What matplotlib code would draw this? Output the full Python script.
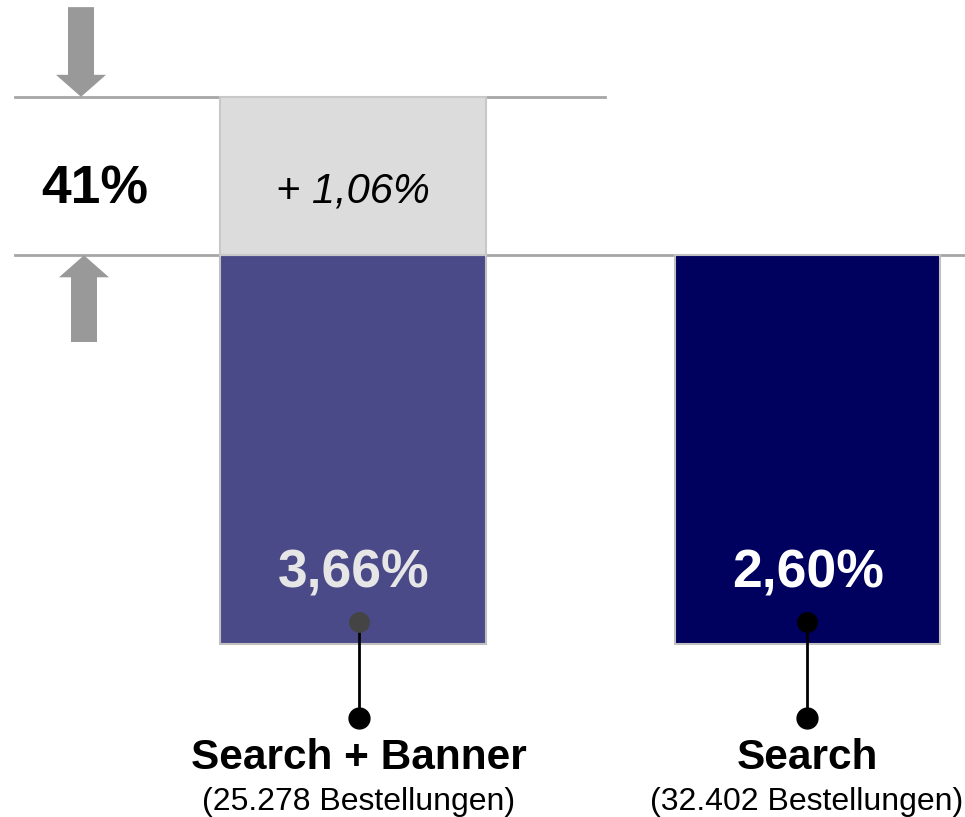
import matplotlib
matplotlib.use('Agg')
import matplotlib.pyplot as plt
from matplotlib.patches import FancyArrow

plt.rcParams['font.family'] = ['Liberation Sans', 'DejaVu Sans']

# conversion rates per campaign setup
categories = ['Search + Banner', 'Search']
orders = ['25.278', '32.402']
rates = [3.66, 2.60]

base = rates[1]
uplift = rates[0] - rates[1]
rel_uplift = uplift / base * 100


def de(v):
    return ('%.2f' % v).replace('.', ',')


W, H = 965, 817
PX = 149.5          # pixel per percentage point
ZERO = 644          # pixel row of the bar base

fig = plt.figure(figsize=(W / 100, H / 100), dpi=100)
ax = fig.add_axes([0, 0, 1, 1])
ax.set_xlim(0, W)
ax.set_ylim(-(H - ZERO) / PX, ZERO / PX)
ax.axis('off')

bar_x = [353, 807.5]
bar_w = [266, 265]
label_x = [359, 807]
colors = ['#4b4a88', '#00005f']
val_colors = ['#e6e6e6', 'white']
dot_colors = ['#444444', 'black']

# reference lines for base rate and total
ax.plot([15, 605], [rates[0], rates[0]], color='#a6a6a6', lw=2, zorder=1)
ax.plot([15, W], [base, base], color='#a6a6a6', lw=2, zorder=1)

# base bars + uplift segment
ax.bar(bar_x, [base, base], width=bar_w, color=colors, edgecolor='#c0c0c0', lw=1.5, zorder=2)
ax.bar(bar_x[0], uplift, bottom=base, width=bar_w[0], color='#dcdcdc', edgecolor='#c8c8c8', lw=1.5, zorder=2)

ax.text(bar_x[0], base + uplift / 2 - 0.1, '+ ' + de(uplift) + '%', ha='center', va='center',
        fontsize=30, style='italic', color='black', zorder=3)

# arrows marking the relative uplift
hl = 22 / PX
ax.add_patch(FancyArrow(81, rates[0] + 0.6, 0, -0.6, width=26, head_width=50, head_length=hl,
                        length_includes_head=True, color='#999999', lw=0))
ax.add_patch(FancyArrow(84, base - 0.58, 0, 0.58, width=26, head_width=50, head_length=hl,
                        length_includes_head=True, color='#999999', lw=0))
ax.text(95, base + uplift / 2 - 0.09, '%d%%' % round(rel_uplift), ha='center', va='center',
        fontsize=38.5, fontweight='bold')

for i in range(2):
    ax.text(bar_x[i] + 1, 0.47, de(rates[i]) + '%', ha='center', va='center',
            fontsize=38.5, fontweight='bold', color=val_colors[i], zorder=3)
    ax.plot([label_x[i], label_x[i]], [0.15, -0.495], color='black', lw=2, zorder=3)
    ax.plot(label_x[i], 0.15, 'o', ms=14, color=dot_colors[i], zorder=4)
    ax.plot(label_x[i], -0.495, 'o', ms=15, color='black', zorder=4)
    ax.text(label_x[i], -0.76, categories[i], ha='center', va='center',
            fontsize=30.5, fontweight='bold')
    ax.text(label_x[i], -1.06, '(' + orders[i] + ' Bestellungen)', ha='center', va='center',
            fontsize=23)

fig.savefig('out.png', dpi=100)
